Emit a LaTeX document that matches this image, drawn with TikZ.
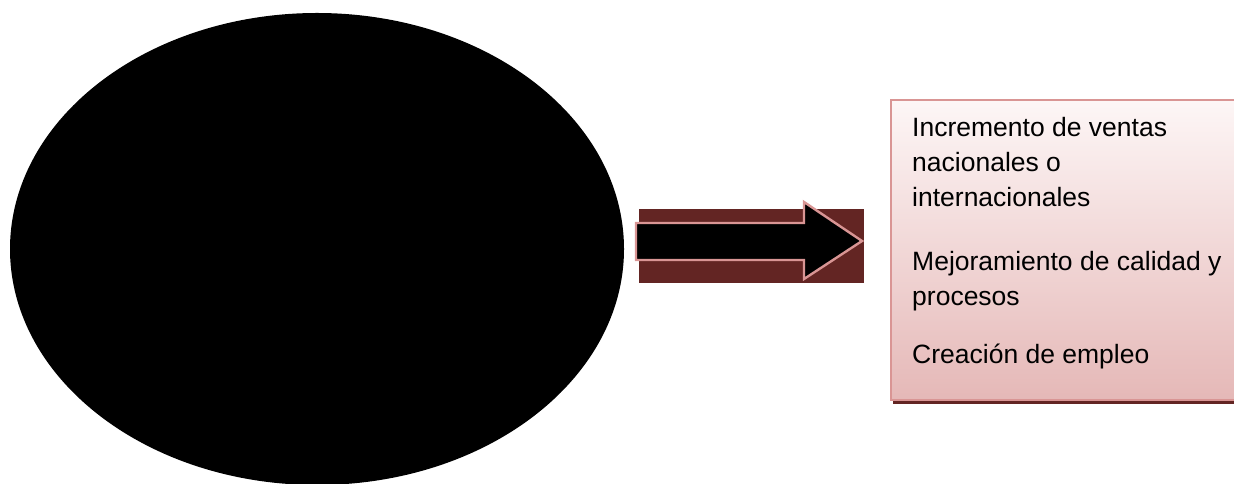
\documentclass[tikz,border=0pt]{standalone}
\usepackage{fontspec}
\setmainfont{Liberation Sans}
\usepackage{xcolor}
\usetikzlibrary{positioning,shapes.geometric,shadows}
\definecolor{DarkMaroon}{RGB}{99,37,35}
\definecolor{SoftRose}{RGB}{217,149,148}
\definecolor{PaleRose}{RGB}{253,246,246}
\definecolor{DeepRose}{RGB}{229,184,183}
\tikzset{
  oval/.style={ellipse, fill=black, minimum width=614pt, minimum height=472pt, inner sep=0pt},
  backbox/.style={fill=DarkMaroon, draw=none},
  blockarrow/.style={fill=black, draw=SoftRose, line width=2.4pt, line join=miter},
  resbox/.style={draw=SoftRose, line width=2pt, top color=PaleRose, bottom color=DeepRose,
    minimum width=350pt, minimum height=300pt, inner sep=0pt, anchor=north west},
  shadowbar/.style={fill=DarkMaroon, draw=none},
  restext/.style={anchor=base west, align=left, inner sep=0pt, font=\fontsize{26.5}{35}\selectfont},
}
\begin{document}
\begin{tikzpicture}[x=1pt, y=1pt]
  \useasboundingbox (0,0) rectangle (1234,484);
  \node[oval] (ovalo) at (317,235) {};
  \fill[backbox] (639,201) rectangle (864,275);
  \draw[blockarrow] (636,261) -- (804,261) -- (804,282) -- (862,243) -- (804,205) -- (804,224) -- (636,224) -- cycle;
  \fill[shadowbar] (893,80) rectangle (1240,86);
  \node[resbox] (resultados) at (890,385) {};
  \node[restext] (ventas) at (912,277) {Incremento de ventas\\nacionales o\\internacionales};
  \node[restext] (calidad) at (912,178) {Mejoramiento de calidad y\\procesos};
  \node[restext] (empleo) at (912,120) {Creación de empleo};
\end{tikzpicture}
\end{document}
